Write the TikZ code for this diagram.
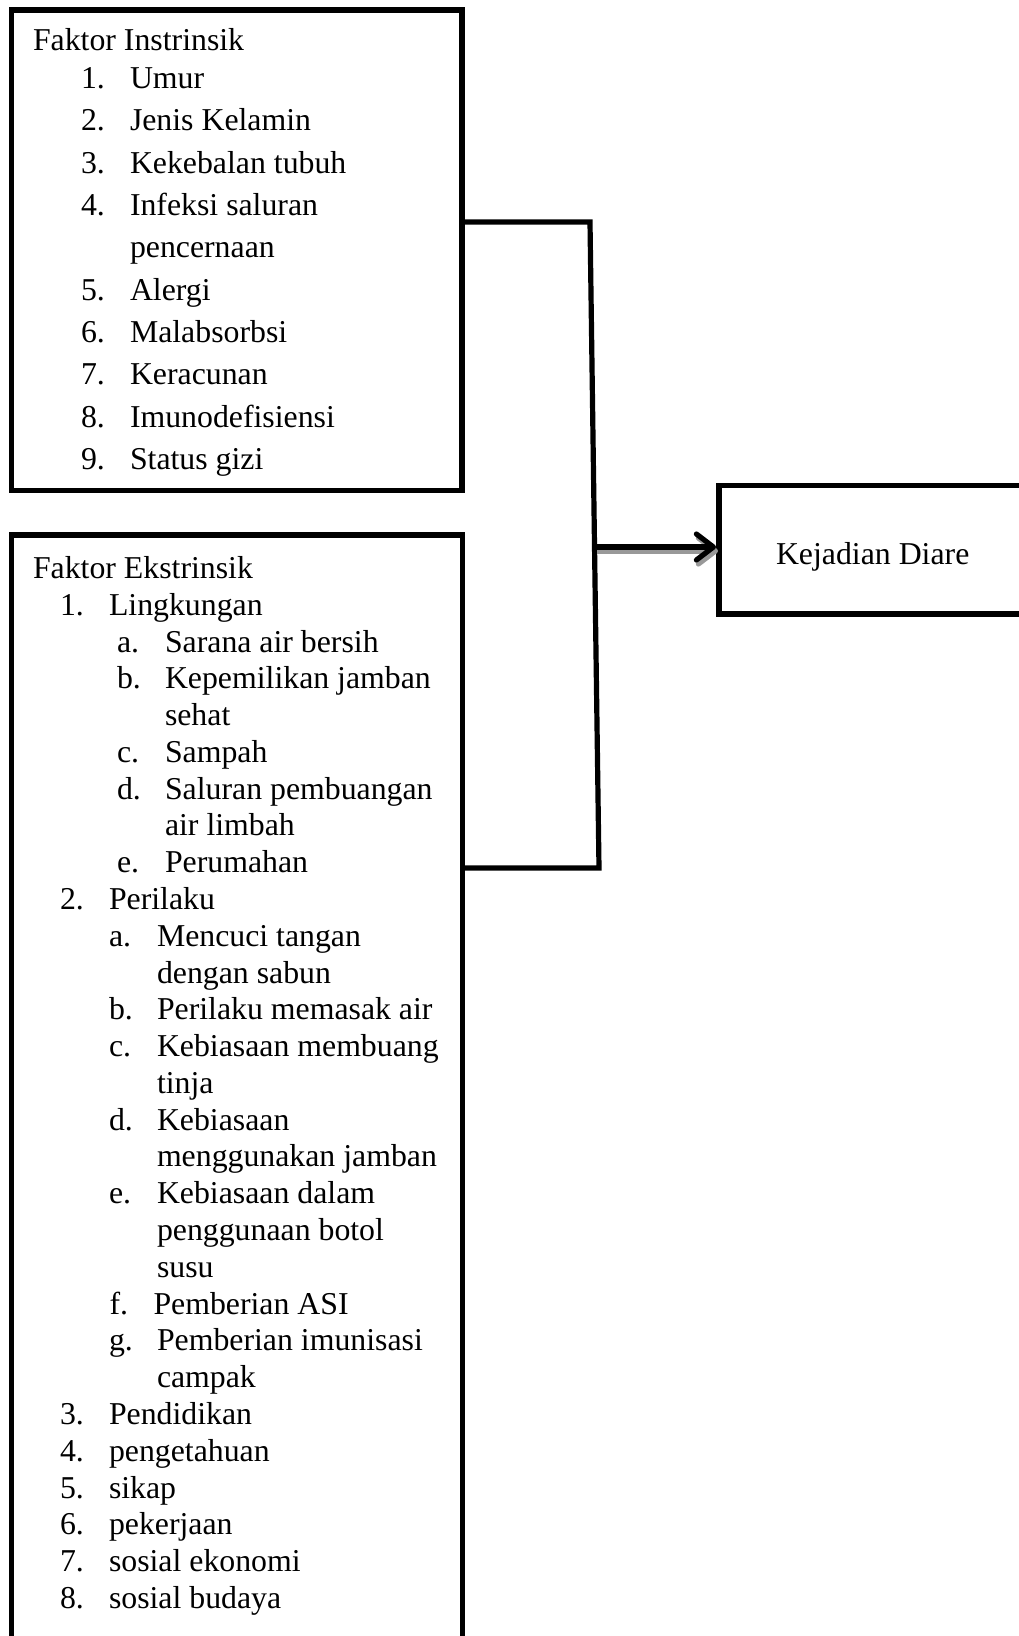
\documentclass[tikz,border=0pt]{standalone}
\usepackage{fontspec}
\setmainfont{Liberation Serif}
\usetikzlibrary{arrows.meta}
\tikzset{
  lw/.style={line width=5.2pt},
  boxframe/.style={draw, lw, rectangle, inner sep=0pt, outer sep=0pt},
  txt/.style={anchor=base west, inner sep=0pt, outer sep=0pt, font=\fontsize{31.8}{38}\selectfont},
  link/.style={lw, line join=miter},
  arrowtip/.style={-{Straight Barb[length=17pt,width=26pt,round]}},
  shadowline/.style={line width=5.2pt, draw=black!40},
}
\newcommand\entry[6]{\node[txt] (#1n) at (#2,#4) {#5}; \node[txt] (#1t) at (#3,#4) {#6};}
\newcommand\cont[4]{\node[txt] (#1) at (#2,#3) {#4};}
\newcommand\ia[1]{88.5+42.35*#1}
\newcommand\eb[1]{578.5+36.78*#1}
\begin{document}
\begin{tikzpicture}[x=1pt,y=-1pt]
\useasboundingbox (0,0) rectangle (1019,1636);
\clip (0,0) rectangle (1019,1636);

% boxes
\node[boxframe, minimum width=450.5pt, minimum height=480.5pt] (box1) at (236.75,250.25) {};
\node[boxframe, minimum width=451pt, minimum height=1145pt] (box2) at (237,1107.5) {};
\node[boxframe, minimum width=341pt, minimum height=128.5pt] (kd) at (889.5,549.75) {};

% connector
\coordinate (c1) at (590,222);
\coordinate (c2) at (599,868);
\coordinate (c3) at (594.5,547);
\draw[link] (box1.east |- c1) -- (c1) -- (c2) -- (box2.east |- c2);
\draw[shadowline, arrowtip, shorten >=3pt] ([xshift=2pt,yshift=-4pt]c3) -- ([xshift=2pt,yshift=-4pt]kd.west |- c3);
\draw[lw, arrowtip, shorten >=3pt] (c3) -- (kd.west |- c3);

% result text
\node[txt] (kdtext) at (776,564.5) {Kejadian Diare};

% box 1
\cont{ih}{33}{50.7}{Faktor Instrinsik}
\entry{ia}{81}{130}{\ia{0}}{1.}{Umur}
\entry{ib}{81}{130}{\ia{1}}{2.}{Jenis Kelamin}
\entry{ic}{81}{130}{\ia{2}}{3.}{Kekebalan tubuh}
\entry{id}{81}{130}{\ia{3}}{4.}{Infeksi saluran}
\cont{idc}{130}{\ia{4}}{pencernaan}
\entry{ie}{81}{130}{\ia{5}}{5.}{Alergi}
\entry{if}{81}{130}{\ia{6}}{6.}{Malabsorbsi}
\entry{ig}{81}{130}{\ia{7}}{7.}{Keracunan}
\entry{ih}{81}{130}{\ia{8}}{8.}{Imunodefisiensi}
\entry{ii}{81}{130}{\ia{9}}{9.}{Status gizi}

% box 2
\cont{eh}{33}{\eb{0}}{Faktor Ekstrinsik}
\entry{ea}{60}{109}{\eb{1}}{1.}{Lingkungan}
\entry{eaa}{117}{165}{\eb{2}}{a.}{Sarana air bersih}
\entry{eab}{117}{165}{\eb{3}}{b.}{Kepemilikan jamban}
\cont{eabc}{165}{\eb{4}}{sehat}
\entry{eac}{117}{165}{\eb{5}}{c.}{Sampah}
\entry{ead}{117}{165}{\eb{6}}{d.}{Saluran pembuangan}
\cont{eadc}{165}{\eb{7}}{air limbah}
\entry{eae}{117}{165}{\eb{8}}{e.}{Perumahan}
\entry{eb}{60}{109}{\eb{9}}{2.}{Perilaku}
\entry{eba}{109}{157}{\eb{10}}{a.}{Mencuci tangan}
\cont{ebac}{157}{\eb{11}}{dengan sabun}
\entry{ebb}{109}{157}{\eb{12}}{b.}{Perilaku memasak air}
\entry{ebc}{109}{157}{\eb{13}}{c.}{Kebiasaan membuang}
\cont{ebcc}{157}{\eb{14}}{tinja}
\entry{ebd}{109}{157}{\eb{15}}{d.}{Kebiasaan}
\cont{ebdc}{157}{\eb{16}}{menggunakan jamban}
\entry{ebe}{109}{157}{\eb{17}}{e.}{Kebiasaan dalam}
\cont{ebec}{157}{\eb{18}}{penggunaan botol}
\cont{ebed}{157}{\eb{19}}{susu}
\entry{ebf}{109.5}{153.5}{\eb{20}}{f.}{Pemberian ASI}
\entry{ebg}{109}{157}{\eb{21}}{g.}{Pemberian imunisasi}
\cont{ebgc}{157}{\eb{22}}{campak}
\entry{ec}{60}{109}{\eb{23}}{3.}{Pendidikan}
\entry{ed}{60}{109}{\eb{24}}{4.}{pengetahuan}
\entry{ee}{60}{109}{\eb{25}}{5.}{sikap}
\entry{ef}{60}{109}{\eb{26}}{6.}{pekerjaan}
\entry{eg}{60}{109}{\eb{27}}{7.}{sosial ekonomi}
\entry{ei}{60}{109}{\eb{28}}{8.}{sosial budaya}
\end{tikzpicture}
\end{document}
